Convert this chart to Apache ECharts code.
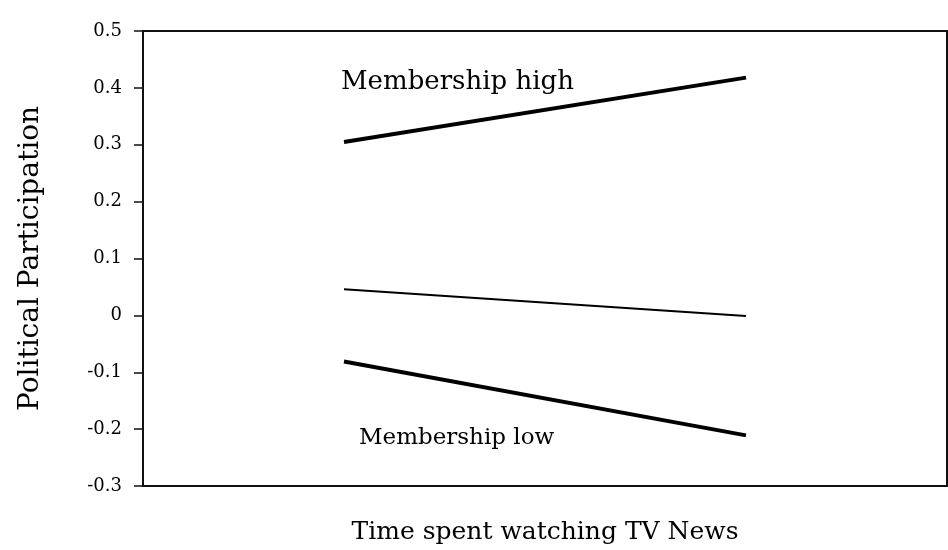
<!DOCTYPE html>
<html>
<head>
<meta charset="utf-8">
<script src="https://cdn.jsdelivr.net/npm/echarts@6/dist/echarts.min.js"></script>
<style>
  html, body { margin: 0; padding: 0; background: #fff; }
  #chart { width: 948px; height: 550px; }
</style>
</head>
<body>
<div id="chart"></div>
<script>
// Time spent watching TV News: low vs high
const categories = ['Low', 'High'];
// Political participation predicted at each level
const membershipHigh = [0.305, 0.418];
const membershipMean = [0.046, -0.001];
const membershipLow = [-0.081, -0.211];
const yTicks = [-0.3, -0.2, -0.1, 0, 0.1, 0.2, 0.3, 0.4, 0.5];

const FONT = "'DejaVu Serif', 'Liberation Serif', serif";

const chart = echarts.init(document.getElementById('chart'));

function lineSeries(name, data, width) {
  return {
    name: name,
    type: 'line',
    data: data,
    symbol: 'none',
    lineStyle: { color: '#000', width: width },
    silent: true
  };
}

chart.setOption({
  animation: false,
  backgroundColor: '#fff',
  grid: {
    left: 143, right: 1, top: 31, bottom: 64,
    show: true, borderColor: '#111', borderWidth: 2,
    containLabel: false
  },
  xAxis: {
    type: 'category',
    data: categories,
    boundaryGap: true,
    name: 'Time spent watching TV News',
    nameLocation: 'middle',
    nameGap: 34,
    nameTextStyle: { fontFamily: FONT, fontSize: 25, color: '#000' },
    axisLine: { show: true, onZero: false, lineStyle: { color: '#111', width: 2 } },
    axisTick: { show: false },
    axisLabel: { show: false },
    splitLine: { show: false }
  },
  yAxis: {
    type: 'value',
    min: yTicks[0],
    max: yTicks[yTicks.length - 1],
    interval: 0.1,
    name: 'Political Participation',
    nameLocation: 'middle',
    nameGap: 98,
    nameRotate: 90,
    nameTextStyle: { fontFamily: FONT, fontSize: 28, color: '#000' },
    axisLine: { show: true, onZero: false, lineStyle: { color: '#111', width: 2 } },
    axisTick: { show: true, inside: false, length: 9, lineStyle: { color: '#111', width: 1.5 } },
    axisLabel: {
      fontFamily: FONT, fontSize: 18, color: '#000', margin: 21,
      formatter: v => {
        const r = Math.round(v * 10) / 10;
        return r === 0 ? '0' : String(r);
      }
    },
    splitLine: { show: false }
  },
  series: [
    lineSeries('Membership high', membershipHigh, 4),
    lineSeries('Membership mean', membershipMean, 2),
    lineSeries('Membership low', membershipLow, 4)
  ]
});

// Series captions placed relative to the first category
const hiPos = chart.convertToPixel({ xAxisIndex: 0, yAxisIndex: 0 }, [categories[0], 0.41]);
const loPos = chart.convertToPixel({ xAxisIndex: 0, yAxisIndex: 0 }, [categories[0], -0.216]);
chart.setOption({
  graphic: [
    {
      type: 'text', x: hiPos[0] - 3, y: hiPos[1],
      style: { text: 'Membership high', font: '26px ' + FONT, fill: '#000', textVerticalAlign: 'middle', verticalAlign: 'middle' }
    },
    {
      type: 'text', x: loPos[0] + 15, y: loPos[1],
      style: { text: 'Membership low', font: '23px ' + FONT, fill: '#000', textVerticalAlign: 'middle', verticalAlign: 'middle' }
    }
  ]
});
</script>
</body>
</html>
